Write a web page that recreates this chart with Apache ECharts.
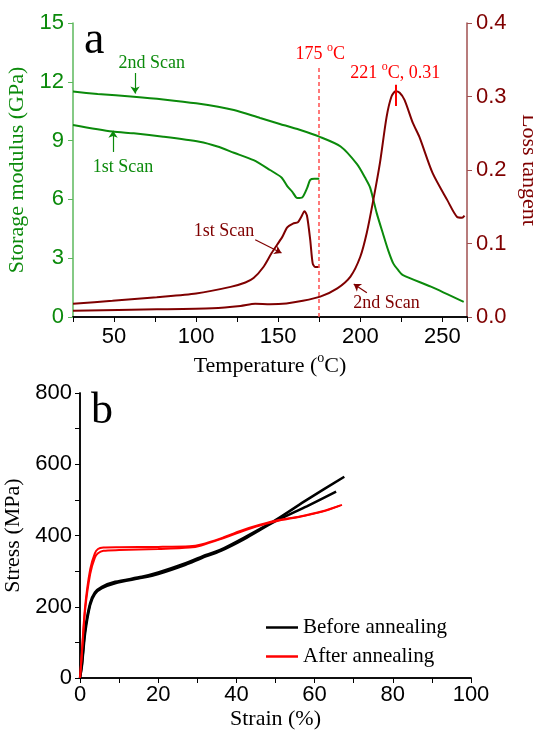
<!DOCTYPE html>
<html>
<head>
<meta charset="utf-8">
<script src="https://cdn.jsdelivr.net/npm/echarts@6/dist/echarts.min.js"></script>
<style>
  html, body { margin: 0; padding: 0; background: #fff; }
  #chart { width: 533px; height: 733px; }
</style>
</head>
<body>
<div id="chart"></div>
<script>
// panel a: storage modulus (GPa)
const tempStorage1 = [25, 49, 62, 80, 102, 113, 123, 135, 145, 152, 155.5, 158.5, 161.6, 164.6, 167.7, 169.5, 172, 175]
const storage1 = [9.8, 9.46, 9.37, 9.2, 8.94, 8.7, 8.38, 8.0, 7.5, 7.12, 6.68, 6.4, 6.07, 6.1, 6.6, 7.0, 7.05, 7.05]
const tempStorage2 = [25, 40, 62, 80, 100, 123, 139, 151, 163, 175, 188, 198, 203, 206, 210, 214, 217, 220, 223, 226, 243, 263]
const storage2 = [11.5, 11.38, 11.24, 11.1, 10.9, 10.56, 10.15, 9.85, 9.55, 9.2, 8.7, 7.8, 7.1, 6.6, 5.3, 4.2, 3.4, 2.75, 2.4, 2.14, 1.55, 0.77]
// panel a: loss tangent
const tempLoss1 = [25, 49, 76, 100, 121, 130, 135, 141, 146, 152.5, 155.5, 159, 162, 164, 166, 167.5, 169.5, 171, 172.5, 175]
const loss1 = [0.018, 0.022, 0.027, 0.032, 0.041, 0.047, 0.053, 0.068, 0.087, 0.109, 0.122, 0.127, 0.129, 0.136, 0.144, 0.138, 0.105, 0.073, 0.068, 0.068]
const tempLoss2 = [25, 76, 110, 127, 136, 145, 155, 165, 175.6, 186, 194, 200, 204, 208, 212, 216, 219, 221.5, 224, 227, 232, 236, 244, 253, 259, 262, 263.5]
const loss2 = [0.0086, 0.0104, 0.012, 0.015, 0.018, 0.0175, 0.0185, 0.022, 0.0277, 0.039, 0.055, 0.082, 0.115, 0.16, 0.21, 0.272, 0.3, 0.307, 0.305, 0.295, 0.264, 0.245, 0.196, 0.159, 0.136, 0.135, 0.138]
const tgTemp = 175
const peakTemp = 221.5

// panel b: stress-strain
const strainBefore1 = [0, 0.5, 1.3, 2.6, 3.8, 5.6, 9, 15.8, 20, 27, 31, 36, 42, 50, 58, 67.6]
const stressBefore1 = [0, 40, 135, 210, 240, 256, 270, 284, 296, 322, 340, 360, 394, 443, 500, 565]
const strainBefore2 = [0, 0.5, 1.3, 2.6, 3.8, 5.6, 9, 15.8, 20, 27, 31, 36, 42, 50, 58, 65.5]
const stressBefore2 = [0, 35, 125, 205, 236, 252, 266, 281, 292, 318, 336, 357, 390, 440, 482, 523]
const strainAfter1 = [0, 0.4, 1.3, 2.6, 3.8, 4.6, 6, 10, 20, 28, 31, 36, 41, 46, 51, 56, 62, 67]
const stressAfter1 = [0, 60, 200, 305, 350, 362, 366, 367, 368, 370, 375, 392, 413, 430, 444, 453, 468, 486]
const strainAfter2 = [0, 0.4, 1.3, 2.6, 3.8, 4.6, 6, 10, 20, 28, 31, 36, 41, 46, 51, 56, 62, 66.5]
const stressAfter2 = [0, 55, 190, 292, 338, 350, 357, 359, 362, 366, 372, 390, 410, 428, 442, 452, 467, 484]

const pairs = (xs, ys) => xs.map((x, i) => [x, ys[i]])

const serif = 'Liberation Serif'
const sans = 'Liberation Sans'
const green = '#0b8a0b'
const darkRed = '#7f0000'
const red = '#ff0000'

const chart = echarts.init(document.getElementById('chart'))

function note(name, coord, color) {
  return { name: name, coord: coord, label: { color: color } }
}

chart.setOption({
  animation: false,
  title: [
    { text: 'a', left: 79, top: 13, textStyle: { fontFamily: serif, fontSize: 46, fontWeight: 'normal', color: '#000' } },
    { text: 'b', left: 86, top: 384, textStyle: { fontFamily: serif, fontSize: 44, fontWeight: 'normal', color: '#000' } }
  ],
  legend: {
    data: ['Before annealing', 'After annealing'],
    orient: 'vertical',
    left: 261,
    top: 612,
    icon: 'rect',
    itemWidth: 32,
    itemHeight: 2.5,
    itemGap: 8,
    textStyle: { fontFamily: serif, fontSize: 21, color: '#000' }
  },
  grid: [
    { left: 73, top: 23, width: 394, height: 294, outerBoundsMode: 'none' },
    { left: 80, top: 393, width: 391, height: 285, outerBoundsMode: 'none' }
  ],
  xAxis: [
    {
      gridIndex: 0, type: 'value', min: 25, max: 265, interval: 25,
      name: 'Temperature ({s|o}C)', nameLocation: 'middle', nameGap: 34,
      nameTextStyle: { fontFamily: serif, fontSize: 22, color: '#000',
        rich: { s: { fontFamily: serif, fontSize: 14, color: '#000', padding: [0, 0, 16, 0] } } },
      axisLine: { lineStyle: { color: '#000', width: 1.5 } },
      axisTick: { inside: false, length: 5, lineStyle: { color: '#000' } },
      axisLabel: { fontFamily: sans, fontSize: 22, color: '#000', margin: 9,
        formatter: v => (v % 50 === 0 ? v : '') },
      splitLine: { show: false }
    },
    {
      gridIndex: 0, type: 'value', position: 'top', min: 25, max: 265, interval: 25,
      axisLine: { lineStyle: { color: '#000', width: 1.5 } },
      axisTick: { inside: true, length: 5, lineStyle: { color: '#000' } },
      axisLabel: { show: false },
      splitLine: { show: false }
    },
    {
      gridIndex: 1, type: 'value', min: 0, max: 100, interval: 10,
      name: 'Strain (%)', nameLocation: 'middle', nameGap: 30,
      nameTextStyle: { fontFamily: serif, fontSize: 22, color: '#000' },
      axisLine: { lineStyle: { color: '#000', width: 1.5 } },
      axisTick: { inside: false, length: 5, lineStyle: { color: '#000' } },
      axisLabel: { fontFamily: sans, fontSize: 22, color: '#000', margin: 6,
        formatter: v => (v % 20 === 0 ? v : '') },
      splitLine: { show: false }
    },
    {
      gridIndex: 1, type: 'value', position: 'top', min: 0, max: 100, interval: 10,
      axisLine: { lineStyle: { color: '#000', width: 1.5 } },
      axisTick: { inside: true, length: 4, lineStyle: { color: '#000' } },
      axisLabel: { show: false },
      splitLine: { show: false }
    }
  ],
  yAxis: [
    {
      gridIndex: 0, type: 'value', position: 'left', min: 0, max: 15, interval: 3,
      name: 'Storage modulus (GPa)', nameLocation: 'middle', nameGap: 40,
      nameTextStyle: { fontFamily: serif, fontSize: 22, color: green },
      axisLine: { lineStyle: { color: '#5cb85c', width: 1.5 } },
      axisTick: { inside: false, length: 5, lineStyle: { color: '#5cb85c' } },
      axisLabel: { fontFamily: sans, fontSize: 22, color: green, margin: 9 },
      splitLine: { show: false }
    },
    {
      gridIndex: 0, type: 'value', position: 'right', min: 0, max: 0.4, interval: 0.1,
      name: 'Loss tangent', nameLocation: 'middle', nameGap: 45, nameRotate: -90,
      nameTextStyle: { fontFamily: serif, fontSize: 22, color: darkRed },
      axisLine: { lineStyle: { color: '#a05050', width: 1.5 } },
      axisTick: { inside: false, length: 5, lineStyle: { color: '#a05050' } },
      axisLabel: { fontFamily: sans, fontSize: 22, color: darkRed, margin: 9,
        formatter: v => v.toFixed(1) },
      splitLine: { show: false }
    },
    {
      gridIndex: 1, type: 'value', position: 'left', min: 0, max: 800, interval: 100,
      name: 'Stress (MPa)', nameLocation: 'middle', nameGap: 53,
      nameTextStyle: { fontFamily: serif, fontSize: 22, color: '#000' },
      axisLine: { lineStyle: { color: '#000', width: 1.5 } },
      axisTick: { inside: false, length: 5, lineStyle: { color: '#000' } },
      axisLabel: { fontFamily: sans, fontSize: 22, color: '#000', margin: 8,
        formatter: v => (v % 200 === 0 ? v : '') },
      splitLine: { show: false }
    },
    {
      gridIndex: 1, type: 'value', position: 'right', min: 0, max: 800, interval: 100,
      axisLine: { lineStyle: { color: '#000', width: 1.5 } },
      axisTick: { inside: true, length: 4, lineStyle: { color: '#000' } },
      axisLabel: { show: false },
      splitLine: { show: false }
    }
  ],
  series: [
    {
      name: 'Storage 1st', type: 'line', xAxisIndex: 0, yAxisIndex: 0,
      data: pairs(tempStorage1, storage1), symbol: 'none', smooth: 0.25,
      lineStyle: { color: green, width: 2 },
      markPoint: {
        symbol: 'circle', symbolSize: 0, silent: true,
        label: { show: true, position: 'inside', formatter: '{b}', fontFamily: serif, fontSize: 18 },
        data: [note('2nd Scan', [73, 12.96], green), note('1st Scan', [55.5, 7.65], green)]
      },
      markLine: {
        silent: true, symbol: ['none', 'arrow'], symbolSize: 7,
        lineStyle: { color: green, width: 1.2, type: 'solid' }, label: { show: false },
        data: [
          [{ coord: [62.8, 12.45] }, { coord: [62.8, 11.4] }],
          [{ coord: [49.4, 8.42] }, { coord: [49.4, 9.5] }]
        ]
      }
    },
    {
      name: 'Storage 2nd', type: 'line', xAxisIndex: 0, yAxisIndex: 0,
      data: pairs(tempStorage2, storage2), symbol: 'none', smooth: 0.25,
      lineStyle: { color: green, width: 2 }
    },
    {
      name: 'Loss 1st', type: 'line', xAxisIndex: 0, yAxisIndex: 1,
      data: pairs(tempLoss1, loss1), symbol: 'none', smooth: 0.25,
      lineStyle: { color: darkRed, width: 2 },
      markPoint: {
        symbol: 'circle', symbolSize: 0, silent: true,
        label: { show: true, position: 'inside', formatter: '{b}', fontFamily: serif, fontSize: 18 },
        data: [note('1st Scan', [117, 0.117], darkRed), note('2nd Scan', [216, 0.019], darkRed)]
      },
      markLine: {
        silent: true, symbol: ['none', 'arrow'], symbolSize: 7,
        lineStyle: { color: darkRed, width: 1.2, type: 'solid' }, label: { show: false },
        data: [
          [{ coord: [136, 0.105] }, { coord: [152, 0.087] }],
          [{ coord: [204, 0.033] }, { coord: [196, 0.045] }]
        ]
      }
    },
    {
      name: 'Loss 2nd', type: 'line', xAxisIndex: 0, yAxisIndex: 1,
      data: pairs(tempLoss2, loss2), symbol: 'none', smooth: 0.25,
      lineStyle: { color: darkRed, width: 2 },
      markPoint: {
        symbol: 'circle', symbolSize: 0, silent: true,
        label: {
          show: true, position: 'inside', fontFamily: serif, fontSize: 18, color: red,
          formatter: p => p.name,
          rich: { s: { fontFamily: serif, fontSize: 12, color: red, padding: [0, 0, 13, 0] } }
        },
        data: [
          { name: '175 {s|o}C', coord: [175.6, 0.358] },
          { name: '221 {s|o}C, 0.31', coord: [221.3, 0.331] }
        ]
      },
      markLine: {
        silent: true, symbol: ['none', 'none'], label: { show: false },
        data: [
          [{ coord: [tgTemp, 0], lineStyle: { color: '#ff4d4d', width: 1.5, type: [4, 3] } },
           { coord: [tgTemp, 0.34] }],
          [{ coord: [peakTemp, 0.287], lineStyle: { color: red, width: 2, type: 'solid' } },
           { coord: [peakTemp, 0.316] }]
        ]
      }
    },
    {
      name: 'Before annealing', type: 'line', xAxisIndex: 2, yAxisIndex: 2,
      data: pairs(strainBefore1, stressBefore1), symbol: 'none', smooth: 0.25,
      lineStyle: { color: '#000', width: 2.5 }, itemStyle: { color: '#000' }
    },
    {
      name: 'Before annealing', type: 'line', xAxisIndex: 2, yAxisIndex: 2,
      data: pairs(strainBefore2, stressBefore2), symbol: 'none', smooth: 0.25,
      lineStyle: { color: '#000', width: 2.5 }, itemStyle: { color: '#000' }
    },
    {
      name: 'After annealing', type: 'line', xAxisIndex: 2, yAxisIndex: 2,
      data: pairs(strainAfter1, stressAfter1), symbol: 'none', smooth: 0.25,
      lineStyle: { color: red, width: 2 }, itemStyle: { color: red }
    },
    {
      name: 'After annealing', type: 'line', xAxisIndex: 2, yAxisIndex: 2,
      data: pairs(strainAfter2, stressAfter2), symbol: 'none', smooth: 0.25,
      lineStyle: { color: red, width: 2 }, itemStyle: { color: red }
    }
  ]
})
</script>
</body>
</html>
